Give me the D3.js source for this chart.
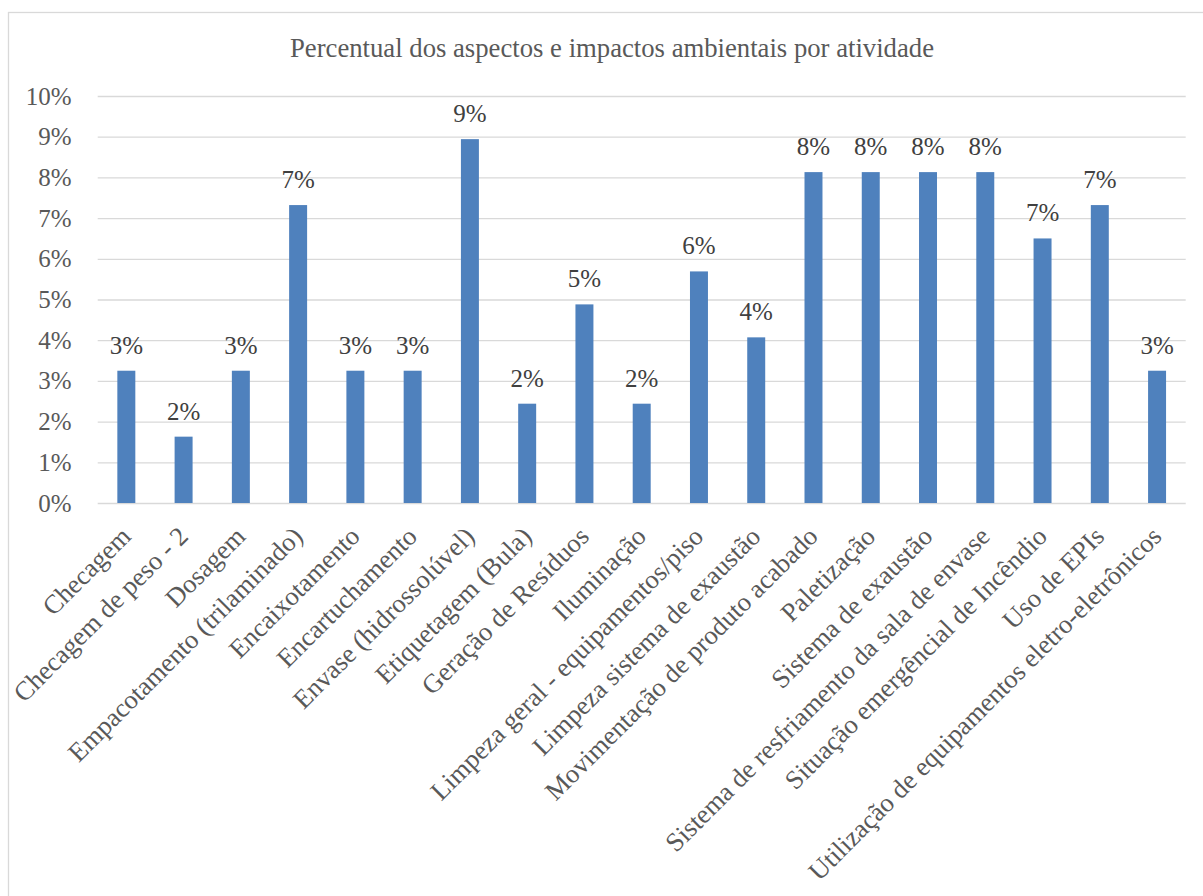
<!DOCTYPE html>
<html>
<head>
<meta charset="utf-8">
<script src="https://cdn.jsdelivr.net/npm/d3@7"></script>
<style>
  html, body { margin: 0; padding: 0; background: #fff; }
  svg { display: block; }
  text { font-family: "Liberation Serif", "Times New Roman", serif; }
</style>
</head>
<body>
<svg id="chart" width="1203" height="896"></svg>
<script>
// Share of environmental aspects and impacts per activity (%)
const categories = [
  "Checagem",
  "Checagem de peso - 2",
  "Dosagem",
  "Empacotamento (trilaminado)",
  "Encaixotamento",
  "Encartuchamento",
  "Envase (hidrossolúvel)",
  "Etiquetagem (Bula)",
  "Geração de Resíduos",
  "Iluminação",
  "Limpeza geral - equipamentos/piso",
  "Limpeza sistema de exaustão",
  "Movimentação de produto acabado",
  "Paletização",
  "Sistema de exaustão",
  "Sistema de resfriamento da sala de envase",
  "Situação emergêncial de Incêndio",
  "Uso de EPIs",
  "Utilização de equipamentos eletro-eletrônicos"
];
const values = [
  3.25, 1.63, 3.25, 7.32, 3.25, 3.25, 8.94, 2.44, 4.88, 2.44,
  5.69, 4.07, 8.13, 8.13, 8.13, 8.13, 6.50, 7.32, 3.25
];
const yTicks = [0, 1, 2, 3, 4, 5, 6, 7, 8, 9, 10];
const title = "Percentual dos aspectos e impactos ambientais por atividade";

const svg = d3.select("#chart");
const plot = { left: 97.7, right: 1185.7, top: 96, bottom: 503 };

const x = d3.scaleBand()
  .domain(categories)
  .range([plot.left, plot.right])
  .paddingInner(0.686)
  .paddingOuter(0.343);

const y = d3.scaleLinear()
  .domain([0, 10])
  .range([plot.bottom, plot.top]);

// outer chart frame
svg.append("rect")
  .attr("x", 8.5).attr("y", 12.5)
  .attr("width", 1220).attr("height", 900)
  .attr("fill", "none")
  .attr("stroke", "#d9d9d9")
  .attr("stroke-width", 1.3);

// title
svg.append("text")
  .attr("x", 612).attr("y", 57)
  .attr("text-anchor", "middle")
  .attr("fill", "#595959")
  .attr("font-size", 26.7)
  .text(title);

// horizontal gridlines + y labels
const yAxis = d3.axisLeft(y)
  .tickValues(yTicks)
  .tickSize(-(plot.right - plot.left))
  .tickPadding(26)
  .tickFormat(d => d + "%");

const gy = svg.append("g")
  .attr("transform", `translate(${plot.left},0)`)
  .call(yAxis);
gy.select(".domain").remove();
gy.selectAll(".tick line").attr("stroke", "#d9d9d9").attr("stroke-width", 1.3);
gy.selectAll(".tick text")
  .attr("fill", "#595959")
  .attr("font-size", 25);

// bars
svg.append("g").selectAll("rect")
  .data(values)
  .join("rect")
  .attr("x", (d, i) => x(categories[i]))
  .attr("y", d => y(d))
  .attr("width", x.bandwidth())
  .attr("height", d => y(0) - y(d))
  .attr("fill", "#4f81bd");

// value labels
svg.append("g").selectAll("text")
  .data(values)
  .join("text")
  .attr("x", (d, i) => x(categories[i]) + x.bandwidth() / 2)
  .attr("y", d => y(d) - 17)
  .attr("text-anchor", "middle")
  .attr("fill", "#404040")
  .attr("font-size", 25)
  .text(d => Math.round(d) + "%");

// category axis, labels rotated 45°
const xAxis = d3.axisBottom(x).tickSize(0).tickPadding(0);
const gx = svg.append("g")
  .attr("transform", `translate(0,${plot.bottom})`)
  .call(xAxis);
gx.select(".domain").remove();
gx.selectAll(".tick text")
  .attr("fill", "#595959")
  .attr("font-size", 26.5)
  .attr("text-anchor", "end")
  .attr("dy", null)
  .attr("y", null)
  .attr("transform", "translate(6,35) rotate(-45)");
</script>
</body>
</html>
